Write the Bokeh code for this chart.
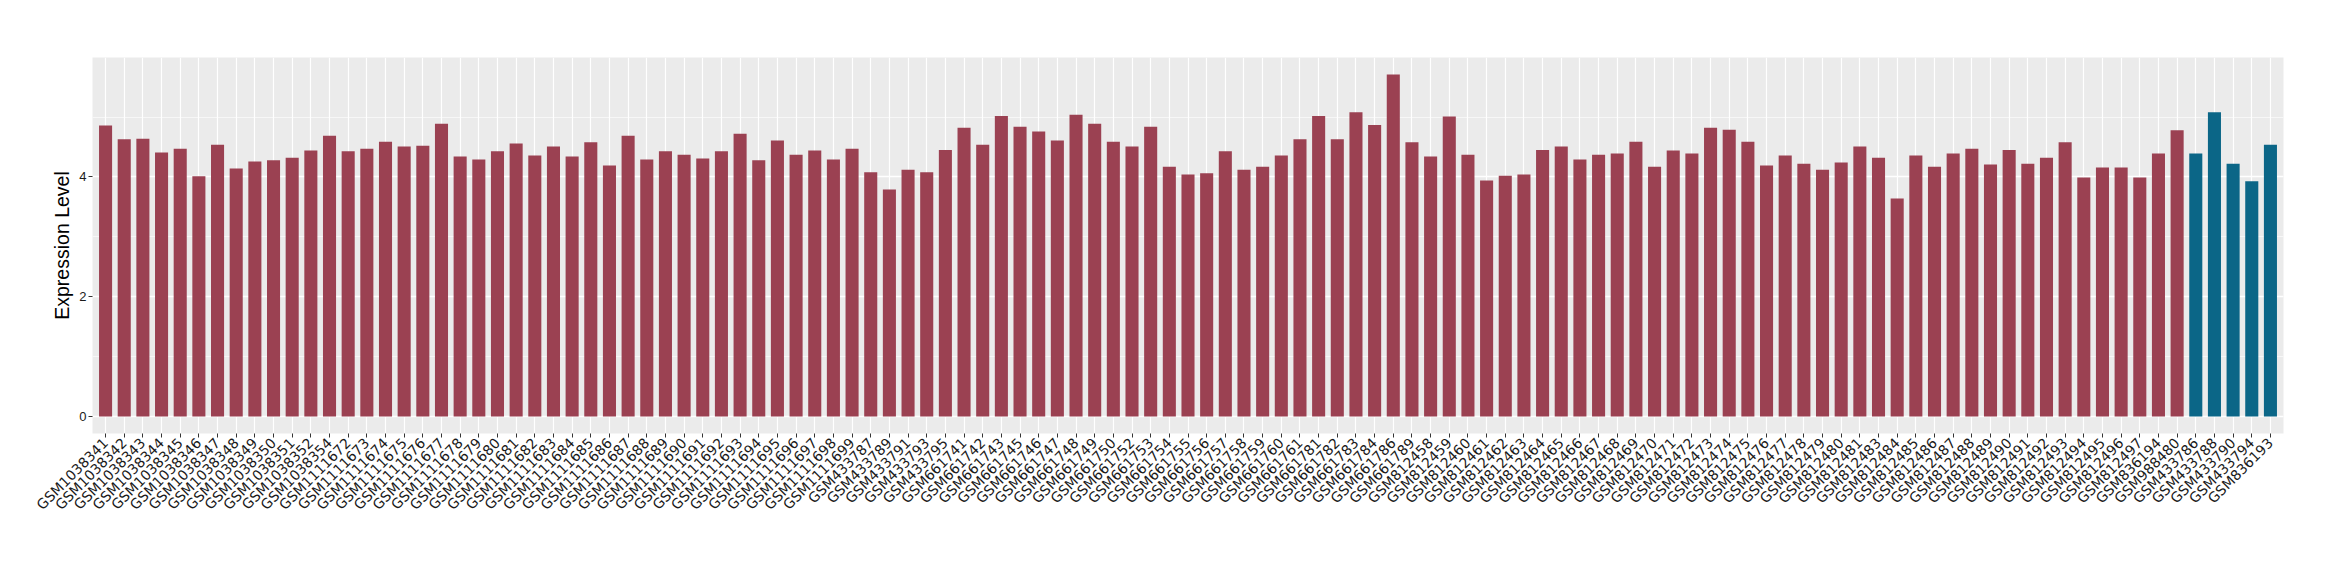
from math import pi
from bokeh.plotting import figure
from bokeh.models import FactorRange, Range1d, SingleIntervalTicker, ColumnDataSource
from bokeh.transform import factor_cmap
from bokeh.embed import file_html
from bokeh.resources import INLINE

samples = [
    "GSM1038341", "GSM1038342", "GSM1038343", "GSM1038344", "GSM1038345", "GSM1038346",
    "GSM1038347", "GSM1038348", "GSM1038349", "GSM1038350", "GSM1038351", "GSM1038352",
    "GSM1038354", "GSM1111672", "GSM1111673", "GSM1111674", "GSM1111675", "GSM1111676",
    "GSM1111677", "GSM1111678", "GSM1111679", "GSM1111680", "GSM1111681", "GSM1111682",
    "GSM1111683", "GSM1111684", "GSM1111685", "GSM1111686", "GSM1111687", "GSM1111688",
    "GSM1111689", "GSM1111690", "GSM1111691", "GSM1111692", "GSM1111693", "GSM1111694",
    "GSM1111695", "GSM1111696", "GSM1111697", "GSM1111698", "GSM1111699",
    "GSM433787", "GSM433789", "GSM433791", "GSM433793", "GSM433795",
    "GSM661741", "GSM661742", "GSM661743", "GSM661745", "GSM661746", "GSM661747",
    "GSM661748", "GSM661749", "GSM661750", "GSM661752", "GSM661753", "GSM661754",
    "GSM661755", "GSM661756", "GSM661757", "GSM661758", "GSM661759", "GSM661760",
    "GSM661761", "GSM661781", "GSM661782", "GSM661783", "GSM661784", "GSM661786",
    "GSM661789",
    "GSM812458", "GSM812459", "GSM812460", "GSM812461", "GSM812462", "GSM812463",
    "GSM812464", "GSM812465", "GSM812466", "GSM812467", "GSM812468", "GSM812469",
    "GSM812470", "GSM812471", "GSM812472", "GSM812473", "GSM812474", "GSM812475",
    "GSM812476", "GSM812477", "GSM812478", "GSM812479", "GSM812480", "GSM812481",
    "GSM812483", "GSM812484", "GSM812485", "GSM812486", "GSM812487", "GSM812488",
    "GSM812489", "GSM812490", "GSM812491", "GSM812492", "GSM812493", "GSM812494",
    "GSM812495", "GSM812496", "GSM812497", "GSM836194", "GSM988480",
    "GSM433786", "GSM433788", "GSM433790", "GSM433794", "GSM836193",
]

values = [
    4.86, 4.63, 4.64, 4.41, 4.47, 4.01, 4.54, 4.14, 4.26, 4.28, 4.32, 4.44,
    4.69, 4.43, 4.47, 4.59, 4.51, 4.52, 4.89, 4.34, 4.29, 4.43, 4.56, 4.36, 4.51, 4.34, 4.58,
    4.19, 4.69, 4.29, 4.43, 4.37, 4.31, 4.43, 4.72, 4.28, 4.61, 4.37, 4.44, 4.29, 4.47,
    4.08, 3.79, 4.12, 4.08, 4.45,
    4.82, 4.54, 5.02, 4.84, 4.76, 4.61, 5.04, 4.89, 4.59, 4.51, 4.84, 4.17,
    4.04, 4.06, 4.43, 4.12, 4.17, 4.36, 4.63, 5.02, 4.63, 5.08, 4.87, 5.71, 4.58,
    4.34, 5.01, 4.37, 3.94, 4.02, 4.04, 4.45, 4.51, 4.29, 4.37, 4.39, 4.59,
    4.17, 4.44, 4.39, 4.82, 4.79, 4.59, 4.19, 4.36, 4.22, 4.12, 4.24, 4.51,
    4.32, 3.64, 4.36, 4.17, 4.39, 4.47, 4.21, 4.45, 4.22, 4.32, 4.58, 3.99,
    4.16, 4.16, 3.99, 4.39, 4.78,
    4.39, 5.08, 4.22, 3.93, 4.54,
]

group_names = ["Group 1", "Group 2"]
groups = ["Group 1"] * 112 + ["Group 2"] * 5

palette = ["#9B4152", "#0B6687"]

src = ColumnDataSource(dict(sample=samples, value=values, group=groups))

ymax = max(values)
p = figure(
    x_range=FactorRange(factors=samples, range_padding=0.2, range_padding_units="absolute"),
    y_range=Range1d(-0.05 * ymax, 1.05 * ymax),
    width=2340, height=580,
    output_backend="svg", toolbar_location=None, title=None,
    min_border_left=92, min_border_right=57, min_border_top=57, min_border_bottom=147,
)

p.vbar(x="sample", top="value", width=0.7, source=src,
       fill_color=factor_cmap("group", palette, group_names), line_color=None)

p.background_fill_color = "#EBEBEB"
p.border_fill_color = "white"
p.outline_line_color = None

ticker = SingleIntervalTicker(interval=2, num_minor_ticks=2)
p.yaxis.ticker = ticker
p.ygrid.ticker = ticker
p.ygrid.grid_line_color = "white"
p.ygrid.grid_line_width = 1.3
p.ygrid.minor_grid_line_color = "white"
p.ygrid.minor_grid_line_width = 0.6
p.xgrid.grid_line_color = "white"
p.xgrid.grid_line_width = 1.2

for ax in (p.xaxis, p.yaxis):
    ax.axis_line_color = None
    ax.major_tick_line_color = "#333333"
    ax.major_tick_out = 4
    ax.major_tick_in = 0
    ax.minor_tick_line_color = None
    ax.major_label_text_color = "#1A1A1A"

p.yaxis.axis_label = "Expression Level"
p.yaxis.axis_label_text_font = "Liberation Sans"
p.yaxis.axis_label_text_font_size = "19.5px"
p.yaxis.axis_label_text_font_style = "normal"
p.yaxis.axis_label_text_color = "black"
p.yaxis.axis_label_standoff = 3
p.yaxis.major_label_text_font = "Liberation Sans"
p.yaxis.major_label_text_font_size = "13px"
p.yaxis.major_label_standoff = 2

p.xaxis.major_label_orientation = pi / 4
p.xaxis.major_label_text_font = "DejaVu Sans"
p.xaxis.major_label_text_font_size = "14px"
p.xaxis.major_label_standoff = 3

open("out.html", "w").write(file_html(p, INLINE))
